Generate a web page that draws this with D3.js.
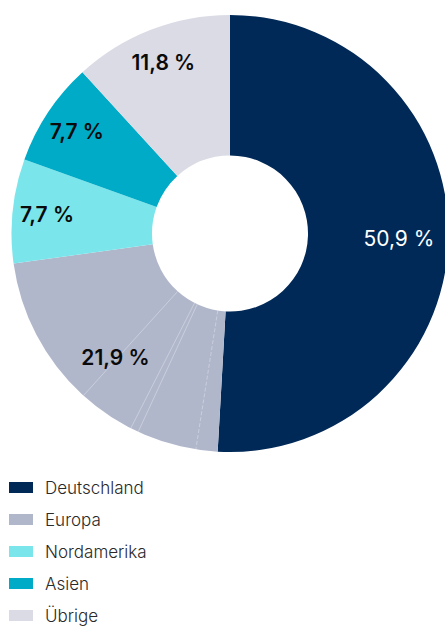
<!DOCTYPE html>
<html><head><meta charset="utf-8">
<script src="https://cdn.jsdelivr.net/npm/d3@7"></script>
<style>html,body{margin:0;padding:0;background:#fff;}svg{display:block;}</style>
</head><body>
<svg id="c" width="445" height="626"></svg>
<script>
const categories = ["Deutschland", "Europa", "Nordamerika", "Asien", "Übrige"];
const values = [50.9, 21.9, 7.7, 7.7, 11.8];
const labels = ["50,9 %", "21,9 %", "7,7 %", "7,7 %", "11,8 %"];
const colors = ["#012957", "#b1b7cb", "#7ae6eb", "#00abc8", "#dadbe5"];
const labelColors = ["#ffffff", "#0a0a0a", "#0a0a0a", "#0a0a0a", "#0a0a0a"];
// Europa is split into sub-regions (thin separators)
const europaParts = [1.6, 4.4, 0.6, 4.2, 11.1];

const svg = d3.select("#c");
const cx = 230, cy = 233.5, rOuter = 218.5, rInner = 78;
const g = svg.append("g").attr("transform", `translate(${cx},${cy})`);

const pie = d3.pie().sort(null).value(d => d);
const arcs = pie(values);
const arc = d3.arc().innerRadius(rInner).outerRadius(rOuter);

g.selectAll("path.main").data(arcs).join("path")
  .attr("class", "main")
  .attr("d", arc)
  .attr("fill", (d, i) => colors[i]);

// Europa sub-slices
const eu = arcs[1];
const angle = d3.scaleLinear().domain([0, d3.sum(europaParts)]).range([eu.startAngle, eu.endAngle]);
let acc = 0;
const subs = europaParts.map(v => { const s = acc; acc += v; return {startAngle: angle(s), endAngle: angle(acc)}; });
g.selectAll("line.sep").data(subs.slice(1)).join("line")
  .attr("class", "sep")
  .attr("x1", d => Math.sin(d.startAngle) * rInner)
  .attr("y1", d => -Math.cos(d.startAngle) * rInner)
  .attr("x2", d => Math.sin(d.startAngle) * rOuter)
  .attr("y2", d => -Math.cos(d.startAngle) * rOuter)
  .attr("stroke", "#ffffff")
  .attr("stroke-opacity", 0.45)
  .attr("stroke-width", 0.7)
  .attr("stroke-dasharray", (d, i) => i === 0 ? "4,2" : null);

// labels
g.selectAll("text.lbl").data(arcs).join("text")
  .attr("class", "lbl")
  .attr("transform", d => {
    const r = d.data > 20 ? 169 : 184;
    const a = (d.startAngle + d.endAngle) / 2;
    return `translate(${Math.sin(a) * r},${-Math.cos(a) * r})`;
  })
  .attr("text-anchor", "middle")
  .attr("dy", "0.36em")
  .attr("font-family", "Inter, 'Noto Sans', sans-serif")
  .attr("font-size", 21)
  .attr("font-weight", (d, i) => i === 0 ? 400 : 600)
  .attr("fill", (d, i) => labelColors[i])
  .text((d, i) => labels[i]);

// legend
const legend = svg.append("g").attr("transform", "translate(9,488)");
const row = legend.selectAll("g").data(categories).join("g")
  .attr("transform", (d, i) => `translate(0,${i * 32})`);
row.append("rect").attr("x", 0).attr("y", -6).attr("width", 24).attr("height", 11)
  .attr("fill", (d, i) => colors[i]);
row.append("text").attr("x", 36).attr("y", 0).attr("dy", "0.35em")
  .attr("font-family", "Inter, 'Noto Sans', sans-serif")
  .attr("font-size", 17).attr("font-weight", 300)
  .attr("fill", "#2a2a2a")
  .text(d => d);
</script>
</body></html>
